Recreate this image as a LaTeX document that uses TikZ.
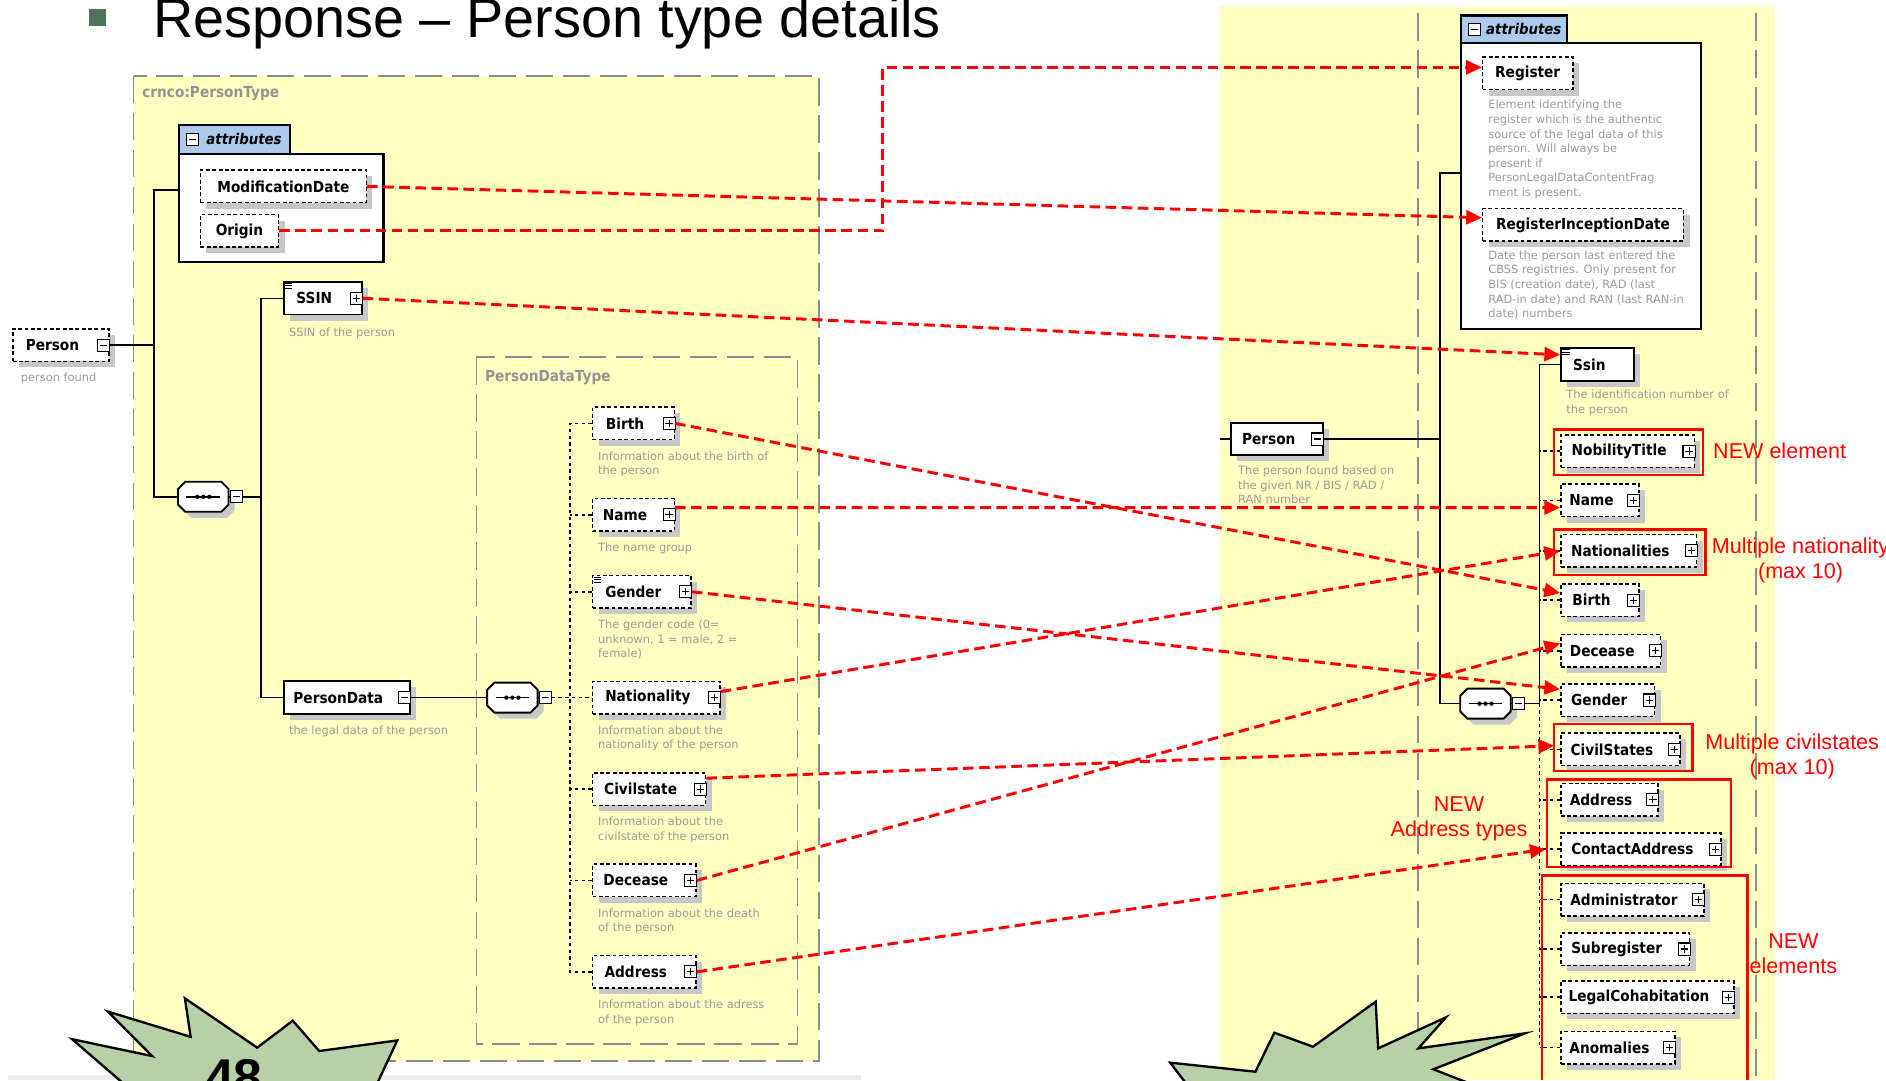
\documentclass[tikz,border=0pt]{standalone}
\usepackage{fontspec}
\setmainfont{Liberation Sans}
\newfontfamily\xsd{DejaVu Sans}
\newfontfamily\xsdlbl{DejaVu Sans}[FakeStretch=0.9]
\usetikzlibrary{arrows.meta,shadows}

\definecolor{yellowbg}{RGB}{255,255,194}
\definecolor{tabblue}{RGB}{170,202,238}
\definecolor{starfill}{RGB}{184,208,168}
\definecolor{bulletgreen}{RGB}{74,116,92}
\definecolor{descgray}{RGB}{155,155,155}
\definecolor{panelgray}{RGB}{140,140,140}

\newcommand{\lblfont}{\xsdlbl\bfseries\fontsize{7.2}{8.5}\selectfont}
\newcommand{\descfont}{\xsd\fontsize{5.4}{6.9}\selectfont}

\tikzset{
  expand/.pic={\draw[fill=white,line width=0.5pt] (-5,-5) rectangle (5,5);
    \draw[line width=0.5pt] (-3,0) -- (3,0) (0,-3) -- (0,3);},
  collapse/.pic={\draw[fill=white,line width=0.5pt] (-5,-5) rectangle (5,5);
    \draw[line width=0.5pt] (-3,0) -- (3,0);},
  listmark/.pic={\foreach \yy in {0,2,4} \draw[line width=0.4pt] (0,\yy) -- (6,\yy);},
  seqmark/.pic={
    \fill[black!22, shift={(5,5)}] (-15,-12.5) -- (15,-12.5) -- (21,-6.5) -- (21,6.5)
      -- (15,12.5) -- (-15,12.5) -- (-21,6.5) -- (-21,-6.5) -- cycle;
    \draw[fill=white, line width=0.9pt] (-15,-12.5) -- (15,-12.5) -- (21,-6.5) -- (21,6.5)
      -- (15,12.5) -- (-15,12.5) -- (-21,6.5) -- (-21,-6.5) -- cycle;
    \draw[line width=0.8pt] (-14,0) -- (14,0);
    \foreach \xx in {-5,0,5} \fill (\xx,0) circle (1.8);}
}

\begin{document}
\begin{tikzpicture}[x=0.02cm, y=-0.02cm,
  panel/.style={draw=panelgray, line width=0.7pt, dash pattern=on 13pt off 4.5pt},
  elem/.style={draw, fill=white, line width=0.7pt, dash pattern=on 1.8pt off 1.2pt,
    anchor=west, inner sep=0pt, minimum height=0.54cm, minimum width=#1*0.02cm,
    font=\lblfont,
    drop shadow={shadow xshift=0.1cm, shadow yshift=-0.1cm, fill=black!22, opacity=1}},
  selem/.style={elem=#1, solid, line width=0.9pt},
  pad/.style={execute at end node={\hspace{0.28cm}}},
  seq/.style={minimum width=0.84cm, minimum height=0.5cm, inner sep=0pt},
  desc/.style={anchor=north west, inner sep=0pt, align=left, text=descgray, font=\descfont},
  hdr/.style={anchor=west, inner sep=0pt, text=black!42, font=\xsdlbl\bfseries\fontsize{7.2}{8}\selectfont},
  attrbox/.style={draw, fill=white, line width=1pt, anchor=north west, inner sep=0pt},
  attrtab/.style={attrbox, fill=tabblue, font=\xsdlbl\bfseries\itshape\fontsize{7}{8}\selectfont},
  tree/.style={line width=0.75pt},
  treedash/.style={line width=0.75pt, dash pattern=on 1.6pt off 1.6pt},
  map/.style={draw=red, line width=1.4pt, dash pattern=on 5pt off 2.6pt,
    -{Triangle[length=7.4pt, width=6.6pt]}},
  newbox/.style={draw=red, line width=1.2pt},
  note/.style={text=red, align=center, inner sep=0pt, font=\fontsize{10.2}{12}\selectfont},
  burst/.style={draw, fill=starfill, line width=1.1pt, line join=miter}
]
\useasboundingbox (0,0) rectangle (1568,898);

% backgrounds
\fill[black!8] (7,894) rectangle (716,898);
\fill[yellowbg] (1014,5) rectangle (1476,898);
\draw[panel] (1179,11) -- (1179,898) (1460,11) -- (1460,898);
\draw[panel, fill=yellowbg] (111,63) rectangle (681,882);
\draw[panel] (396,297) rectangle (663,868);

% title
\node[fill=bulletgreen, inner sep=0pt, minimum size=0.27cm] (bullet) at (81,14.5) {};
\node[anchor=base west, inner sep=0pt, font=\fontsize{26.4}{30}\selectfont] (title) at (127,31.5) {Response -- Person type details};

\node[hdr] (ptype) at (118,78) {crnco:PersonType};
\node[hdr] (pdtype) at (403,314) {PersonDataType};

% attribute groups
\node[attrbox, minimum width=3.4cm, minimum height=1.8cm] (attrA) at (148,127) {};
\node[attrtab, minimum width=1.84cm, minimum height=0.48cm] (attrAtab) at (148,103) {\hspace{0.32cm}attributes};
\node[attrbox, minimum width=3.98cm, minimum height=4.76cm] (attrB) at (1214,35) {};
\node[attrtab, minimum width=1.76cm, minimum height=0.46cm] (attrBtab) at (1214,12) {\hspace{0.32cm}attributes};

% old person type
\node[elem=80, pad] (personA) at (10,287) {Person};
\node[elem=138] (modDate) at (166,155) {ModificationDate};
\node[elem=65] (origin) at (166,192) {Origin};
\node[selem=65, pad] (ssinA) at (235,248) {SSIN};
\node[selem=105, pad] (personData) at (235,580) {PersonData};
\node[seq] (seqA) at (169,413) {};
\node[seq] (seqB) at (426,580) {};
\node[elem=68, pad] (birthA) at (492,352) {Birth};
\node[elem=68, pad] (nameA) at (492,428) {Name};
\node[elem=82, pad] (genderA) at (492,492) {Gender};
\node[elem=106, pad] (natA) at (492,580) {Nationality};
\node[elem=94, pad] (civA) at (492,656) {Civilstate};
\node[elem=86, pad] (decA) at (492,732) {Decease};
\node[elem=86, pad] (addrA) at (492,808) {Address};

\node[desc] (personAd) at (17,310) {person found};
\node[desc] (ssinAd) at (240,272) {SSIN of the person};
\node[desc] (personDatad) at (240,603) {the legal data of the person};
\node[desc] (birthAd) at (497,375) {Information about the birth of\\the person};
\node[desc] (nameAd) at (497,451) {The name group};
\node[desc] (genderAd) at (497,515) {The gender code (0=\\unknown, 1 = male, 2 =\\female)};
\node[desc] (natAd) at (497,603) {Information about the\\nationality of the person};
\node[desc] (civAd) at (497,679) {Information about the\\civilstate of the person};
\node[desc] (decAd) at (497,755) {Information about the death\\of the person};
\node[desc] (addrAd) at (497,831) {Information about the adress\\of the person};

% new person type
\node[elem=75] (register) at (1232,61) {Register};
\node[elem=167] (regInc) at (1232,187) {RegisterInceptionDate};
\node[selem=76, pad] (personB) at (1023,365) {Person};
\node[selem=61, pad] (ssinB) at (1297,303) {Ssin};
\node[seq] (seqC) at (1235,585) {};
\node[elem=111, pad] (nobB) at (1297,375) {NobilityTitle};
\node[elem=65, pad] (nameB) at (1297,416) {Name};
\node[elem=113, pad] (natsB) at (1297,458) {Nationalities};
\node[elem=65, pad] (birthB) at (1297,499) {Birth};
\node[elem=83, pad] (decB) at (1297,541) {Decease};
\node[elem=78, pad] (genderB) at (1297,582) {Gender};
\node[elem=99, pad] (civsB) at (1297,623) {CivilStates};
\node[elem=81, pad] (addrB) at (1297,665) {Address};
\node[elem=133, pad] (contactB) at (1297,706) {ContactAddress};
\node[elem=119, pad] (adminB) at (1297,748) {Administrator};
\node[elem=107, pad] (subB) at (1297,789) {Subregister};
\node[elem=144, pad] (legalB) at (1297,829) {LegalCohabitation};
\node[elem=95, pad] (anomB) at (1297,871) {Anomalies};

\node[desc] (registerd) at (1237,83) {Element identifying the\\register which is the authentic\\source of the legal data of this\\person. Will always be\\present if\\PersonLegalDataContentFrag\\ment is present.};
\node[desc] (regIncd) at (1237,208) {Date the person last entered the\\CBSS registries. Only present for\\BIS (creation date), RAD (last\\RAD-in date) and RAN (last RAN-in\\date) numbers};
\node[desc] (personBd) at (1029,387) {The person found based on\\the given NR / BIS / RAD /\\RAN number};
\node[desc] (ssinBd) at (1302,324) {The identification number of\\the person};

% sequence symbols
\foreach \n in {seqA,seqB,seqC}
  \pic at (\n) {seqmark};

% tree lines
\coordinate (j1) at (128,287);
\coordinate (attrLa) at (148,158);
\coordinate (j2) at (217,413);
\coordinate (j3) at (474,580);
\draw[tree] (personA.east) -- (j1);
\draw[tree] (attrLa) -| (j1) |- (seqA.west);
\draw[tree] (seqA.east) -- (j2);
\draw[tree] (ssinA.west) -| (j2) |- (personData.west);
\draw[tree] (personData.east) -- (seqB.west);
\draw[treedash] (seqB.east) -- (natA.west);
\draw[treedash] (birthA.west) -| (j3) |- (addrA.west);
\foreach \n in {nameA,genderA,civA,decA}
  \draw[treedash] (\n.west) -- (\n.west -| j3);

\coordinate (pin) at (1014,365);
\coordinate (k1) at (1197,365);
\coordinate (attrLb) at (1214,144);
\coordinate (k2) at (1280,585);
\draw[tree] (pin) -- (personB.west);
\draw[tree] (personB.east) -- (k1);
\draw[tree] (attrLb) -| (k1) |- (seqC.west);
\draw[tree] (seqC.east) -- (k2);
\draw[tree] (ssinB.west) -| (k2);
\draw[treedash] (k2) -- (anomB.west -| k2);
\foreach \n in {nobB,nameB,natsB,birthB,decB,genderB,civsB,addrB,contactB,adminB,subB,legalB,anomB}
  \draw[treedash] (\n.west) -- (\n.west -| k2);

% icons
\foreach \n in {ssinA,birthA,nameA,genderA,natA,civA,decA,addrA,nobB,nameB,natsB,birthB,decB,genderB,civsB,addrB,contactB,adminB,subB,legalB,anomB}
  \pic at ([xshift=-0.1cm]\n.east) {expand};
\foreach \n in {personA,personData,personB}
  \pic at ([xshift=-0.1cm]\n.east) {collapse};
\foreach \n in {seqA,seqB,seqC}
  \pic at ([xshift=0.12cm]\n.east) {collapse};
\foreach \n in {attrAtab,attrBtab}
  \pic at ([xshift=0.24cm]\n.west) {collapse};
\foreach \n in {ssinA,genderA,ssinB}
  \pic at ([shift={(2,2)}]\n.north west) {listmark};

% changes
\draw[newbox] (1292,357) rectangle (1416,395);
\draw[newbox] (1292,440) rectangle (1418,478);
\draw[newbox] (1292,602) rectangle (1407,641);
\draw[newbox] (1286,648) rectangle (1439,721);
\draw[newbox] (1282,898) |- (1453,728) -- (1453,898);
\node[note, anchor=west] (noteNob) at (1424,375) {NEW element};
\node[note] (noteNat) at (1497,466) {Multiple nationality\\(max 10)};
\node[note] (noteCiv) at (1490,629) {Multiple civilstates\\(max 10)};
\node[note] (noteAddr) at (1213,681) {NEW\\Address types};
\node[note] (noteElem) at (1491,793) {NEW\\elements};

% mapping
\coordinate (bend1) at (734,56);
\draw[map] (origin.east) -| (bend1) -- (bend1 -| register.west);
\draw[map] (modDate.east) -- ([yshift=0.12cm]regInc.west);
\draw[map] (ssinA.east) -- ([yshift=0.16cm]ssinB.west);
\draw[map] (birthA.east) -- ([yshift=0.12cm]birthB.west);
\draw[map] ([yshift=0.12cm]nameA.east) -- ([yshift=-0.12cm]nameB.west);
\draw[map] (genderA.east) -- ([yshift=0.18cm]genderB.west);
\draw[map] ([yshift=0.1cm]natA.east) -- (natsB.west);
\draw[map] ([yshift=0.18cm]civA.east) -- ([xshift=-0.1cm,yshift=0.06cm]civsB.west);
\draw[map] (decA.east) -- ([yshift=0.12cm]decB.west);
\draw[map] (addrA.east) -- ([xshift=-0.24cm]contactB.west);

% page stars
\begin{scope}
  \clip (0,0) rectangle (1568,898);
  \draw[burst] (104,902) -- (60,864) -- (126.5,878) -- (89.7,841) -- (158.5,862) -- (153.7,830)
    -- (213.8,871) -- (243.4,848.6) -- (265.4,873.8) -- (330.3,865) -- (313,902) -- (313,940)
    -- (104,940) -- cycle;
  \node[font=\fontsize{24.5}{28}\selectfont\bfseries, inner sep=0pt, anchor=base] (num) at (194.5,911) {48};
  \draw[burst] (987,902) -- (972.9,883.5) -- (1043.7,891) -- (1059.5,858.6) -- (1091.6,870.2)
    -- (1143.7,832.8) -- (1145.8,871.6) -- (1202.1,845.8) -- (1179.2,871.6) -- (1267.9,859.1)
    -- (1191.6,889) -- (1225,902) -- (1225,940) -- (987,940) -- cycle;
\end{scope}
\end{tikzpicture}
\end{document}
